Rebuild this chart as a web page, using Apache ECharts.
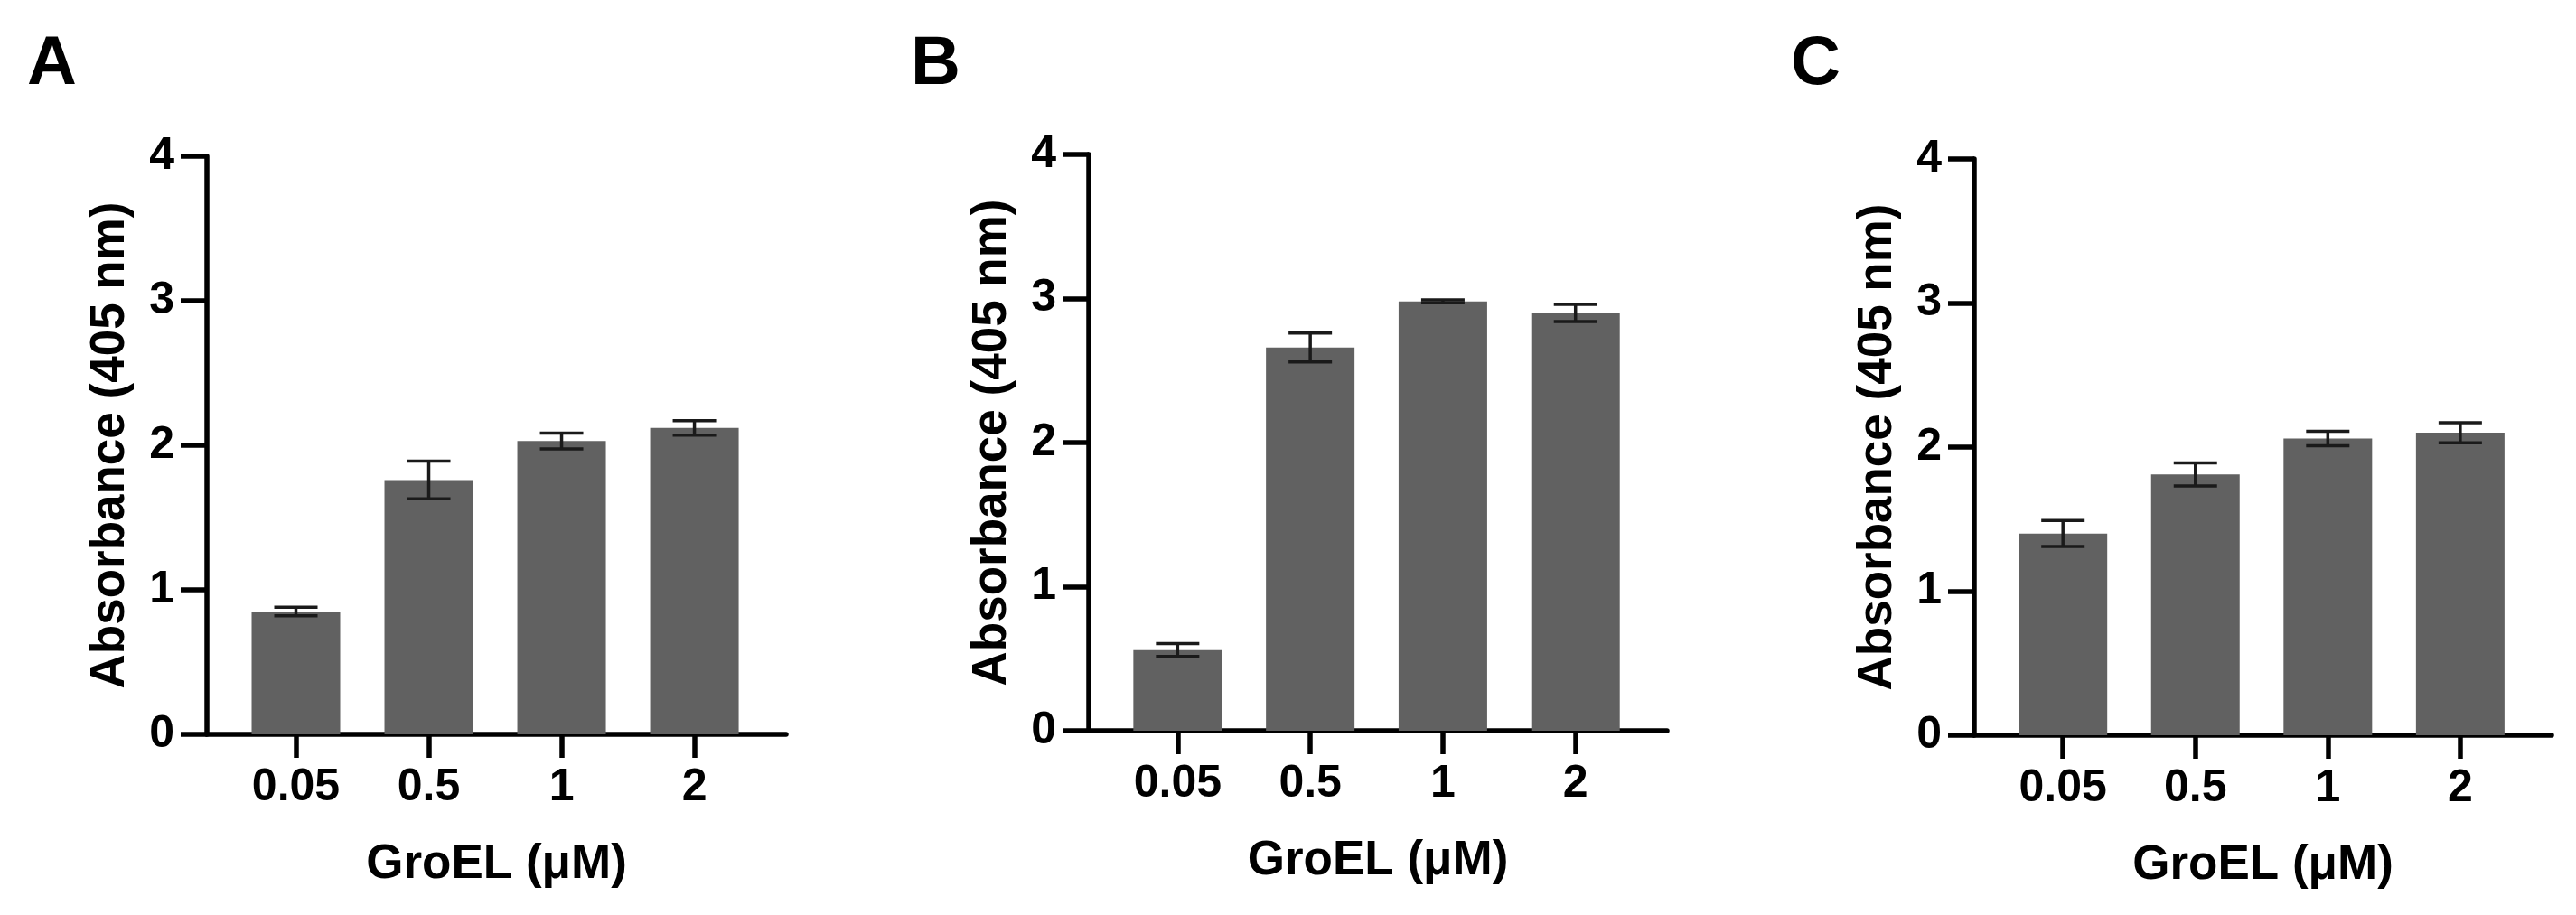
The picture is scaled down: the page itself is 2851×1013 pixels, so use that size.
<!DOCTYPE html>
<html>
<head>
<meta charset="utf-8">
<title>GroEL absorbance</title>
<script src="https://cdn.jsdelivr.net/npm/echarts@6/dist/echarts.min.js"></script>
<style>
  html, body { margin: 0; padding: 0; background: #fff; }
  #chart { width: 2851px; height: 1013px; }
</style>
</head>
<body>
<div id="chart"></div>
<script>
// GroEL concentrations (uM)
const categories = ['0.05', '0.5', '1', '2']
const yTicks = [0, 1, 2, 3, 4]

// panel A
const meanA = [0.85, 1.76, 2.03, 2.12]
const sdA = [0.03, 0.13, 0.055, 0.05]
// panel B
const meanB = [0.56, 2.66, 2.98, 2.90]
const sdB = [0.045, 0.10, 0.01, 0.06]
// panel C
const meanC = [1.40, 1.81, 2.06, 2.10]
const sdC = [0.09, 0.08, 0.05, 0.07]

const panelLetters = ['A', 'B', 'C']

const font = 'Liberation Sans, Arial, sans-serif'
const barColor = '#616161'

// layout of each panel (pixels)
const grids = [
  { left: 229, top: 173, width: 641, height: 640 },
  { left: 1205, top: 171, width: 640, height: 638 },
  { left: 2185, top: 176, width: 639, height: 638 }
]
const letterPos = [[30, 34], [1008, 34], [1982, 34]]

const panels = [
  { mean: meanA, sd: sdA },
  { mean: meanB, sd: sdB },
  { mean: meanC, sd: sdC }
]

const idx = categories.map((c, i) => i)

let xAxes = []
let yAxes = []
let series = []

panels.forEach((p, k) => {
  xAxes.push({
    type: 'value',
    gridIndex: k,
    min: -0.67,
    max: 3.69,
    name: 'GroEL (μM)',
    nameLocation: 'middle',
    nameGap: 118,
    nameTextStyle: { fontFamily: font, fontWeight: 'bold', fontSize: 53, color: '#000' },
    axisLine: { show: true, onZero: false, lineStyle: { color: '#000', width: 5.5 } },
    axisTick: { show: true, customValues: idx, length: 26, lineStyle: { color: '#000', width: 5.5 } },
    axisLabel: {
      customValues: idx,
      margin: 34,
      fontFamily: font,
      fontWeight: 'bold',
      fontSize: 50,
      color: '#000',
      formatter: v => categories[Math.round(v)]
    },
    splitLine: { show: false }
  })
  yAxes.push({
    type: 'value',
    gridIndex: k,
    min: yTicks[0],
    max: yTicks[yTicks.length - 1],
    interval: 1,
    name: 'Absorbance (405 nm)',
    nameLocation: 'middle',
    nameGap: 80,
    nameTextStyle: { fontFamily: font, fontWeight: 'bold', fontSize: 53, color: '#000' },
    axisLine: { show: true, onZero: false, lineStyle: { color: '#000', width: 5.5 } },
    axisTick: { show: true, length: 29, lineStyle: { color: '#000', width: 5.5 } },
    axisLabel: { margin: 36, fontFamily: font, fontWeight: 'bold', fontSize: 50, color: '#000' },
    splitLine: { show: false }
  })
  series.push({
    type: 'bar',
    xAxisIndex: k,
    yAxisIndex: k,
    barWidth: 98,
    itemStyle: { color: barColor },
    data: p.mean.map((v, i) => [i, v])
  })
  series.push({
    type: 'custom',
    xAxisIndex: k,
    yAxisIndex: k,
    z: 5,
    data: p.mean.map((v, i) => [i, v, p.sd[i]]),
    renderItem: (params, api) => {
      const x = api.value(0)
      const m = api.value(1)
      const s = api.value(2)
      const hi = api.coord([x, m + s])
      const lo = api.coord([x, m - s])
      const cap = 24
      const style = { stroke: '#1a1a1a', lineWidth: 3.5 }
      return {
        type: 'group',
        children: [
          { type: 'line', shape: { x1: hi[0], y1: hi[1], x2: lo[0], y2: lo[1] }, style },
          { type: 'line', shape: { x1: hi[0] - cap, y1: hi[1], x2: hi[0] + cap, y2: hi[1] }, style },
          { type: 'line', shape: { x1: lo[0] - cap, y1: lo[1], x2: lo[0] + cap, y2: lo[1] }, style }
        ]
      }
    }
  })
})

const myChart = echarts.init(document.getElementById('chart'))
const option = {
  backgroundColor: '#fff',
  animation: false,
  grid: grids,
  xAxis: xAxes,
  yAxis: yAxes,
  series: series,
  graphic: panelLetters.map((t, k) => ({
    type: 'text',
    left: letterPos[k][0],
    top: letterPos[k][1],
    style: { text: t, fontFamily: font, fontWeight: 'bold', fontSize: 76, fill: '#000' }
  }))
}
myChart.setOption(option)
</script>
</body>
</html>
